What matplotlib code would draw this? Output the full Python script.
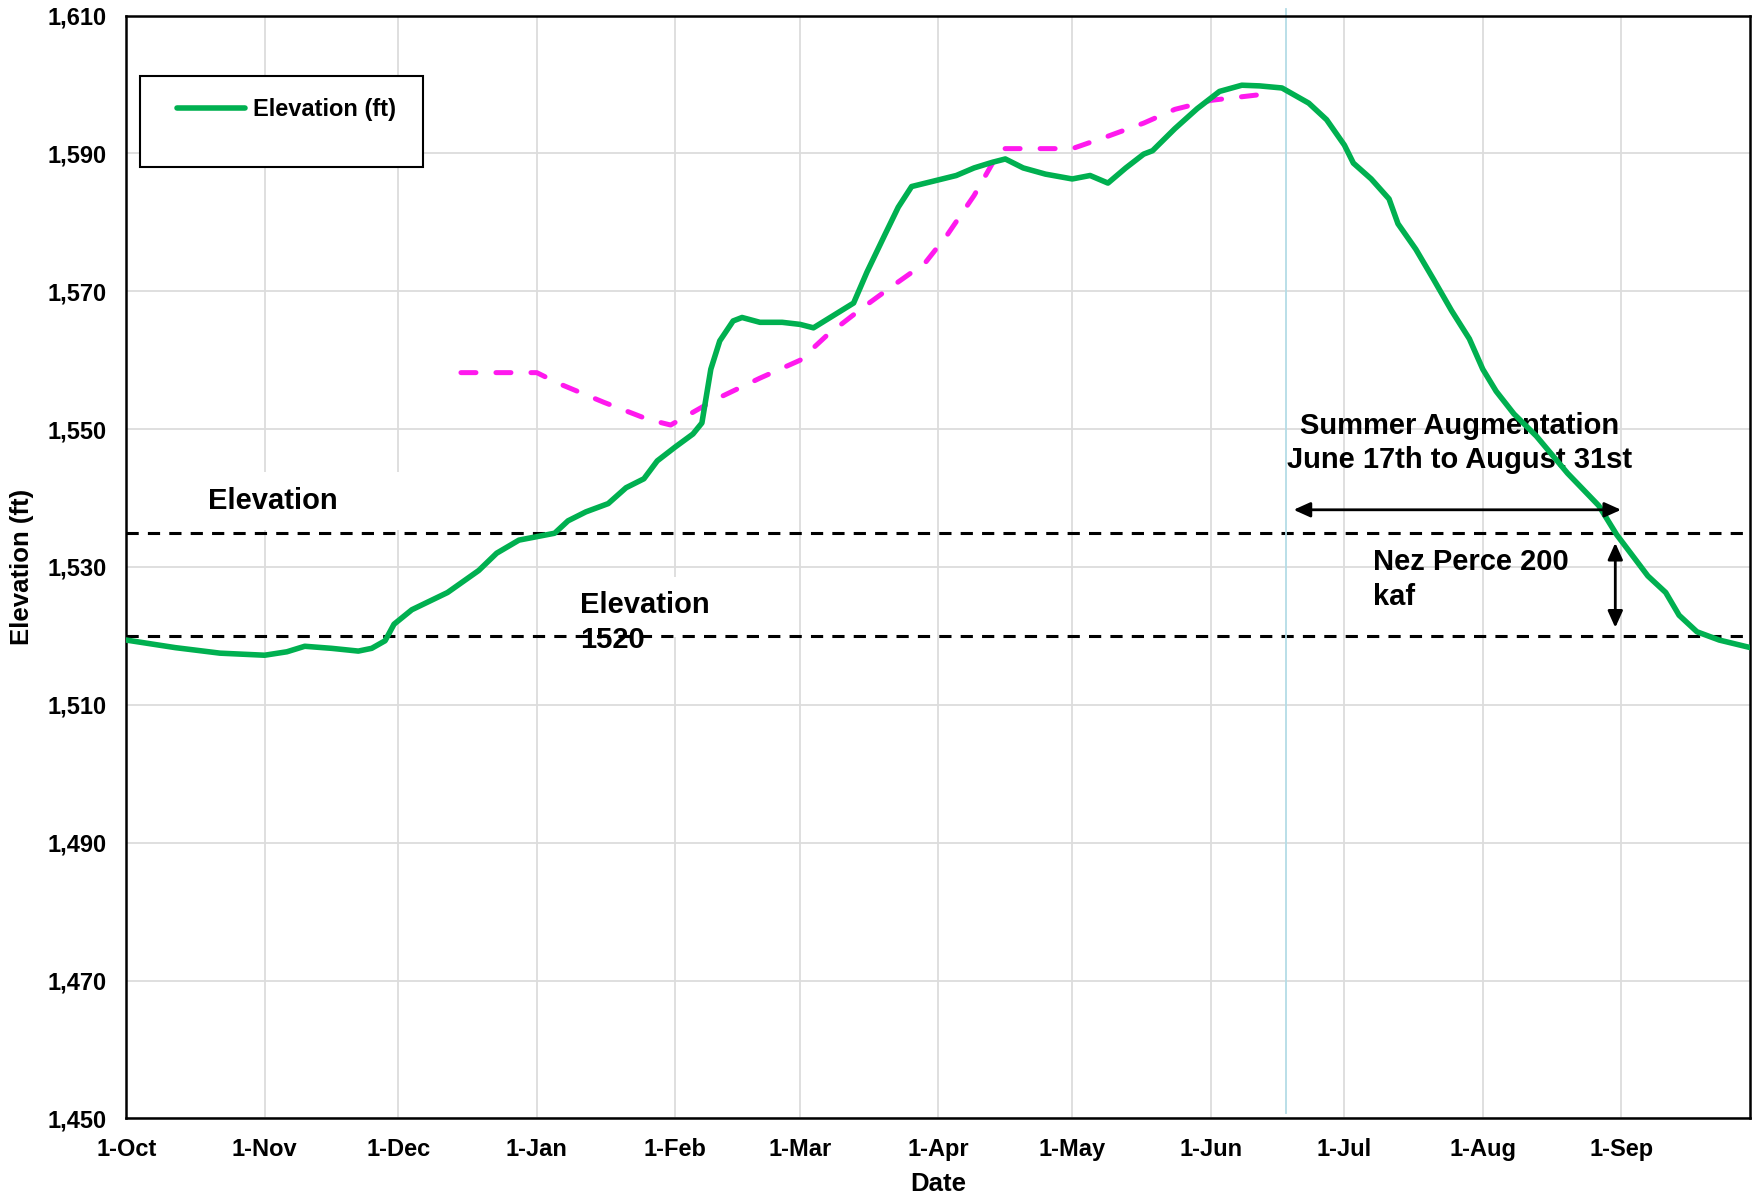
import matplotlib
matplotlib.use("Agg")
import matplotlib.pyplot as plt
import matplotlib.dates as mdates
from matplotlib.patches import Rectangle
import numpy as np
import pandas as pd

plt.rcParams['font.family'] = ['Liberation Sans', 'DejaVu Sans']
plt.rcParams['font.weight'] = 'bold'

start = pd.Timestamp('2021-10-01')

# elevation (ft), days counted from 1-Oct
elev_days = [0, 11, 21, 31, 36, 40, 46, 52, 55, 58, 60, 64, 72, 79, 83, 88, 92, 96, 99,
             103, 108, 112, 116, 119, 123, 127, 129, 131, 133, 136, 138, 142, 147, 151,
             154, 158, 163, 166, 170, 173, 176, 181, 186, 190, 194, 197, 201, 206, 212,
             216, 220, 224, 228, 230, 235, 240, 245, 250, 254, 259, 265, 269, 273, 275,
             279, 283, 285, 289, 293, 297, 301, 304, 307, 311, 316, 323, 330, 334, 341,
             345, 348, 352, 357, 364]
elev_ft = [1519.4, 1518.3, 1517.5, 1517.2, 1517.7, 1518.5, 1518.2, 1517.8, 1518.2, 1519.3,
           1521.7, 1523.8, 1526.3, 1529.5, 1532.0, 1533.9, 1534.4, 1534.9, 1536.7, 1538.0,
           1539.2, 1541.5, 1542.8, 1545.4, 1547.4, 1549.3, 1550.9, 1558.7, 1562.8, 1565.7,
           1566.2, 1565.5, 1565.5, 1565.2, 1564.7, 1566.3, 1568.3, 1572.8, 1578.2, 1582.2,
           1585.2, 1586.0, 1586.8, 1587.9, 1588.7, 1589.2, 1587.9, 1587.0, 1586.3, 1586.8,
           1585.7, 1587.9, 1589.9, 1590.4, 1593.6, 1596.5, 1599.0, 1599.9, 1599.8, 1599.5,
           1597.3, 1594.9, 1591.2, 1588.6, 1586.3, 1583.4, 1579.8, 1576.1, 1571.7, 1567.2,
           1563.1, 1558.7, 1555.5, 1552.2, 1549.0, 1543.6, 1538.9, 1534.7, 1528.7, 1526.3,
           1523.0, 1520.6, 1519.4, 1518.3]

# flood control / refill curve (magenta dashed)
rule_days = [75, 92, 97, 107, 117, 122, 132, 142, 151, 157, 165, 172, 179, 184, 190, 196,
             212, 220, 228, 235, 243, 255]
rule_ft = [1558.2, 1558.2, 1556.6, 1553.9, 1551.4, 1550.6, 1554.3, 1557.4, 1560.0, 1563.6,
           1567.6, 1570.9, 1574.1, 1578.2, 1583.9, 1590.7, 1590.7, 1592.5, 1594.4, 1596.4,
           1597.7, 1598.6]

upper_level = 1535
lower_level = 1520
augment_start_day = 260
yticks = list(range(1450, 1611, 20))


def to_dates(days):
    return start + pd.to_timedelta(np.array(days), unit='D')


fig = plt.figure(figsize=(17.54, 12), dpi=100)
ax = fig.add_axes([0.072, 0.068, 0.926, 0.919])

ax.set_xlim(start, start + pd.Timedelta(days=364))
ax.set_ylim(1450, 1610)
ax.set_yticks(yticks)
ax.yaxis.set_major_formatter(matplotlib.ticker.FuncFormatter(lambda v, p: f"{int(v):,}"))
ax.xaxis.set_major_locator(mdates.MonthLocator())
ax.xaxis.set_major_formatter(mdates.DateFormatter('1-%b'))
ax.tick_params(length=0, labelsize=17, pad=14)
for lab in ax.get_xticklabels() + ax.get_yticklabels():
    lab.set_fontweight('bold')
ax.grid(True, color='#dcdcdc', lw=1.3, zorder=0)
ax.set_axisbelow(True)
for s in ax.spines.values():
    s.set_color('black')
    s.set_linewidth(1.8)

# white text boxes that hide the grid
ax.add_patch(Rectangle((mdates.date2num(start), 1535.4),
                       67.7, 8.4, facecolor='white', edgecolor='none', zorder=1))
ax.add_patch(Rectangle((mdates.date2num(start) + 99.2, 1519.9),
                       34, 8.7, facecolor='white', edgecolor='none', zorder=1))

ax.axhline(upper_level, color='black', lw=2.2, dashes=(4, 3), zorder=2)
ax.axhline(lower_level, color='black', lw=2.2, dashes=(4, 3), zorder=2)

aug_x = mdates.date2num(start + pd.Timedelta(days=augment_start_day))
ax.plot([aug_x, aug_x], [1450.8, 1611], color='#b4dce6', lw=1.3, clip_on=False, zorder=2)

ax.plot(to_dates(rule_days), rule_ft, color='#ff19ee', lw=3.6, dashes=(3, 4),
        dash_capstyle='round', dash_joinstyle='round', zorder=3)
line, = ax.plot(to_dates(elev_days), elev_ft, color='#00b050', lw=4, zorder=4,
                solid_capstyle='round', solid_joinstyle='round', label='Elevation (ft)')

d0 = mdates.date2num(start)
ax.text(d0 + 18.4, 1539.6, 'Elevation', fontsize=21, fontweight='bold', va='center', zorder=5)
ax.text(d0 + 101.6, 1521.9, 'Elevation\n1520', fontsize=21, fontweight='bold',
        va='center', linespacing=1.32, zorder=5)
ax.text(d0 + 298.8, 1548.0, 'Summer Augmentation\nJune 17th to August 31st', fontsize=21,
        fontweight='bold', ha='center', va='center', linespacing=1.24, zorder=3)
ax.text(d0 + 279.4, 1528.2, 'Nez Perce 200\nkaf', fontsize=21, fontweight='bold',
        va='center', linespacing=1.32, zorder=5)

arrow = dict(arrowstyle='<|-|>,head_length=1.0,head_width=0.45', color='black', lw=2,
             shrinkA=0, shrinkB=0)
ax.annotate('', xy=(d0 + 261.6, 1538.3), xytext=(d0 + 335, 1538.3), arrowprops=arrow, zorder=5)
ax.annotate('', xy=(d0 + 333.7, 1533.5), xytext=(d0 + 333.7, 1521.2), arrowprops=arrow, zorder=5)

leg = ax.legend(handles=[line], loc='center left', bbox_to_anchor=(0.0312, 0.9145),
                frameon=False, fontsize=17, handlelength=2.9, handletextpad=0.3,
                borderpad=0, borderaxespad=0, prop={'weight': 'bold', 'size': 17})
ax.add_patch(Rectangle((0.0084, 0.863), 0.1742, 0.0823, transform=ax.transAxes,
                       facecolor='white', edgecolor='black', lw=1.5, zorder=6))
leg.set_zorder(7)

ax.set_xlabel('Date', fontsize=18.5, fontweight='bold', labelpad=8)
ax.set_ylabel('Elevation (ft)', fontsize=18.5, fontweight='bold', labelpad=10)

fig.savefig('out.png', dpi=100)
